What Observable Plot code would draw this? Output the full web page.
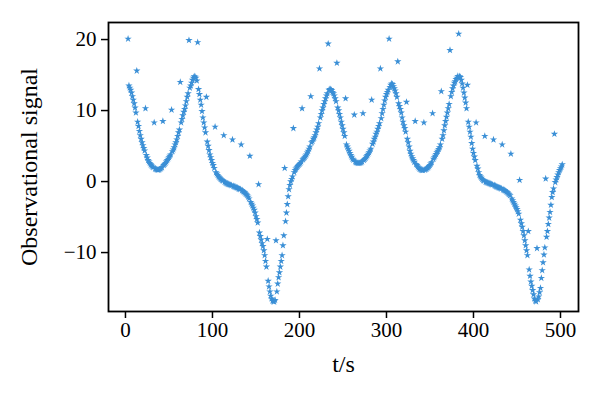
<!DOCTYPE html>
<html><head><meta charset="utf-8">
<script src="https://cdn.jsdelivr.net/npm/d3@7"></script>
<script src="https://cdn.jsdelivr.net/npm/@observablehq/plot@0.6"></script>
<style>body{margin:0;background:#fff;}</style>
</head><body><div id="chart"></div>
<script>
// Observed signal sampled every 1 s starting at t = 3 s (each row: 10 samples)
const tStart = 3;
const sigA = [ // t = 3 .. 102
  20.1, 13.5, 13.2, 12.9, 12.5, 12.0, 11.5, 11.0, 10.4, 9.7,
  15.6, 8.4, 7.8, 7.1, 6.5, 6.0, 5.5, 5.1, 4.7, 4.35,
  10.3, 3.7, 3.35, 3.0, 2.8, 2.6, 2.4, 2.25, 2.1, 2.0,
  8.3, 1.8, 1.75, 1.7, 1.65, 1.65, 1.7, 1.8, 1.9, 2.0,
  8.5, 2.3, 2.45, 2.6, 2.8, 3.0, 3.2, 3.4, 3.6, 3.8,
  10.1, 4.25, 4.5, 4.8, 5.2, 5.5, 5.9, 6.4, 6.9, 7.3,
  14.0, 8.3, 8.8, 9.3, 9.8, 10.2, 10.7, 11.3, 11.9, 12.4,
  19.9, 13.2, 13.5, 13.9, 14.3, 14.6, 14.8, 14.75, 14.6, 14.2,
  19.6, 13.0, 12.3, 11.5, 10.8, 9.9, 9.0, 8.3, 7.6, 6.9,
  11.9, 5.6, 5.0, 4.4, 3.8, 3.4, 3.0, 2.6, 2.3, 1.9
];
const sigB = [ // t = 103 .. 202
  7.7, 1.3, 1.1, 0.9, 0.7, 0.55, 0.4, 0.3, 0.2, 0.1,
  6.5, -0.05, -0.15, -0.25, -0.3, -0.35, -0.4, -0.45, -0.5, -0.55,
  5.9, -0.65, -0.7, -0.75, -0.8, -0.85, -0.9, -1.0, -1.05, -1.1,
  5.2, -1.25, -1.35, -1.45, -1.55, -1.7, -1.8, -1.95, -2.15, -2.4,
  3.6, -2.9, -3.15, -3.4, -3.7, -4.0, -4.4, -4.9, -5.3, -5.8,
  -0.4, -7.2, -7.7, -8.2, -8.7, -9.1, -9.7, -10.4, -11.2, -12.0,
  -8.1, -14.0, -14.8, -15.5, -16.1, -16.5, -16.8, -16.9, -16.9, -16.7,
  -8.3, -15.5, -14.4, -13.5, -12.8, -12.0, -11.2, -10.4, -9.0, -7.6,
  1.9, -5.6, -4.4, -3.2, -2.1, -1.1, -0.5, 0.0, 0.35, 0.7,
  7.5, 1.3, 1.6, 1.8, 2.0, 2.15, 2.3, 2.45, 2.6, 2.8
];
const sigC = [ // t = 203 .. 302
  10.3, 3.1, 3.25, 3.4, 3.6, 3.8, 4.05, 4.3, 4.6, 4.9,
  12.0, 5.5, 5.7, 6.0, 6.2, 6.5, 6.9, 7.3, 7.7, 8.2,
  15.9, 9.0, 9.5, 10.0, 10.4, 10.9, 11.3, 11.7, 12.1, 12.4,
  19.4, 12.9, 13.0, 13.0, 12.85, 12.6, 12.4, 12.1, 11.7, 11.3,
  16.7, 10.4, 10.0, 9.5, 9.0, 8.4, 7.9, 7.4, 6.9, 6.4,
  11.7, 5.2, 4.9, 4.6, 4.3, 4.0, 3.7, 3.45, 3.2, 3.05,
  9.4, 2.8, 2.7, 2.65, 2.6, 2.6, 2.6, 2.65, 2.7, 2.8,
  9.6, 3.0, 3.15, 3.3, 3.5, 3.7, 3.9, 4.1, 4.35, 4.6,
  11.5, 5.3, 5.6, 6.0, 6.3, 6.7, 7.0, 7.4, 7.8, 8.2,
  15.9, 8.9, 9.6, 10.2, 10.8, 11.4, 11.9, 12.3, 12.6, 12.9
];
const sigD = [ // t = 303 .. 402
  20.1, 13.3, 13.6, 13.8, 13.7, 13.4, 13.1, 12.8, 12.4, 11.9,
  16.9, 11.0, 10.6, 10.2, 9.7, 9.0, 8.4, 7.9, 7.5, 7.0,
  11.2, 6.0, 5.5, 4.9, 4.3, 3.9, 3.55, 3.25, 3.0, 2.75,
  8.5, 2.45, 2.3, 2.1, 1.95, 1.8, 1.7, 1.65, 1.6, 1.6,
  8.3, 1.65, 1.7, 1.8, 1.9, 2.0, 2.15, 2.3, 2.5, 2.7,
  9.6, 3.2, 3.4, 3.6, 3.85, 4.1, 4.3, 4.55, 4.8, 5.2,
  12.7, 6.0, 6.5, 7.2, 7.9, 8.5, 9.1, 9.7, 10.3, 10.9,
  18.5, 12.0, 12.6, 13.1, 13.5, 13.9, 14.1, 14.4, 14.6, 14.85,
  20.8, 14.8, 14.7, 14.3, 13.8, 13.2, 12.5, 11.8, 11.1, 10.3,
  13.6, 8.4, 7.7, 7.0, 6.3, 5.4, 4.6, 4.0, 3.5, 3.0
];
const sigE = [ // t = 403 .. 502
  8.3, 2.2, 1.8, 1.3, 0.9, 0.7, 0.5, 0.35, 0.2, 0.1,
  6.4, -0.05, -0.1, -0.15, -0.2, -0.25, -0.3, -0.35, -0.4, -0.45,
  5.9, -0.55, -0.6, -0.7, -0.75, -0.8, -0.85, -0.9, -0.95, -1.0,
  5.2, -1.15, -1.2, -1.25, -1.35, -1.45, -1.55, -1.7, -1.8, -1.95,
  3.9, -2.4, -2.65, -2.9, -3.15, -3.4, -3.65, -3.9, -4.2, -4.55,
  0.2, -5.4, -5.9, -6.4, -7.0, -7.6, -8.3, -9.0, -9.7, -10.4,
  -7.0, -12.4, -13.3, -14.1, -14.7, -15.3, -15.9, -16.5, -16.8, -16.9,
  -9.4, -16.6, -16.2, -15.6, -15.0, -13.6, -12.5, -11.4, -10.3, -9.3,
  0.4, -7.8, -7.0, -6.0, -5.1, -4.3, -3.3, -2.2, -1.5, -1.0,
  6.7, -0.1, 0.25, 0.6, 0.95, 1.3, 1.6, 1.85, 2.1, 2.4
];
const xTicks = [0, 100, 200, 300, 400, 500];
const yTicks = [-10, 0, 10, 20];
const xLabel = "t/s";
const yLabel = "Observational signal";

const values = [sigA, sigB, sigC, sigD, sigE].flat();
const data = values.map((v, i) => ({t: tStart + i, v}));

const font = "'Liberation Serif', 'DejaVu Serif', serif";
const chart = Plot.plot({
  width: 600,
  height: 395,
  marginLeft: 108,
  marginRight: 22,
  marginTop: 22,
  marginBottom: 84,
  x: {domain: [-19.5, 520.7]},
  y: {domain: [-18.3, 22.4]},
  style: {fontFamily: font, fontSize: "21px", color: "#000", background: "#fff"},
  marks: [
    Plot.axisX({ticks: xTicks, tickSize: 7, tickPadding: 4, strokeWidth: 1.5, fontSize: 21, label: null}),
    Plot.axisY({ticks: yTicks, tickSize: 7, tickPadding: 5, strokeWidth: 1.5, fontSize: 21, label: null}),
    Plot.axisX({ticks: [], tickSize: 0, fontSize: 24,
      label: xLabel, labelAnchor: "center", labelArrow: "none", labelOffset: 60}),
    Plot.axisY({ticks: [], tickSize: 0, fontSize: 24,
      label: yLabel, labelAnchor: "center", labelArrow: "none", labelOffset: 89}),
    Plot.dot(data, {x: "t", y: "v", symbol: "star", r: 2.3, fill: "#3a8fd6", stroke: "none"}),
    Plot.frame({stroke: "#000", strokeWidth: 1.8})
  ]
});
document.getElementById("chart").appendChild(chart);
</script>
</body></html>
